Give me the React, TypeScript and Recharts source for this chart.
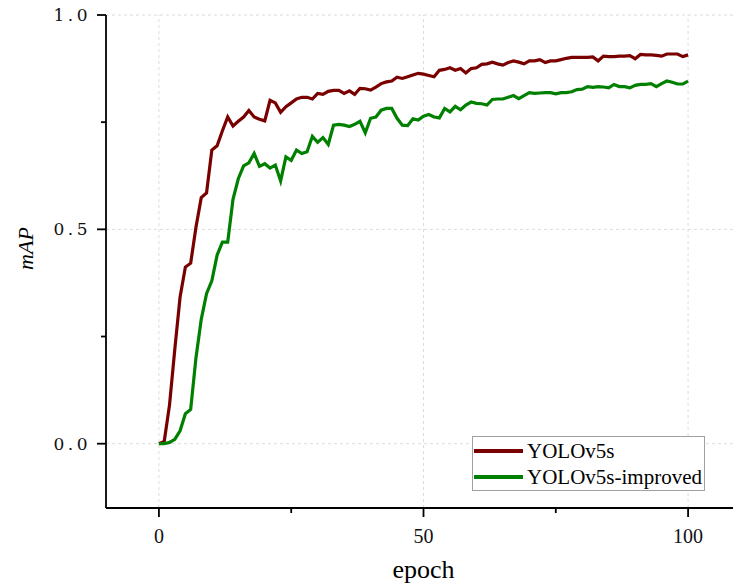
import { LineChart, Line, XAxis, YAxis, ReferenceLine, Legend } from 'recharts'

const yolov5s = [
  0.0, 0.005, 0.09, 0.22, 0.342, 0.412, 0.421, 0.505, 0.574, 0.585,
  0.685, 0.695, 0.73, 0.762, 0.741, 0.752, 0.762, 0.777, 0.762, 0.757,
  0.753, 0.801, 0.795, 0.773, 0.786, 0.795, 0.804, 0.808, 0.808, 0.804,
  0.817, 0.815, 0.822, 0.824, 0.824, 0.817, 0.823, 0.815, 0.829, 0.828,
  0.825, 0.832, 0.84, 0.844, 0.846, 0.855, 0.852, 0.856, 0.86, 0.864,
  0.862, 0.859, 0.856, 0.871, 0.873, 0.877, 0.871, 0.875, 0.865, 0.875,
  0.877, 0.885, 0.886, 0.89, 0.886, 0.883, 0.889, 0.893, 0.89, 0.886,
  0.893, 0.893, 0.896, 0.889, 0.893, 0.893, 0.896, 0.899, 0.901, 0.901,
  0.901, 0.901, 0.902, 0.893, 0.904, 0.903, 0.903, 0.904, 0.904, 0.905,
  0.898, 0.908, 0.907, 0.907, 0.906, 0.904, 0.909, 0.909, 0.909, 0.903,
  0.907,
]

const yolov5sImproved = [
  0.0, 0.0, 0.003, 0.01, 0.03, 0.07, 0.08, 0.2, 0.29, 0.35,
  0.38, 0.44, 0.47, 0.47, 0.57, 0.618, 0.648, 0.655, 0.677, 0.647,
  0.653, 0.643, 0.65, 0.613, 0.669, 0.661, 0.685, 0.677, 0.681, 0.717,
  0.703, 0.714, 0.698, 0.743, 0.745, 0.743, 0.74, 0.745, 0.752, 0.725,
  0.759, 0.762, 0.778, 0.782, 0.782, 0.759, 0.743, 0.742, 0.758, 0.755,
  0.764, 0.768, 0.762, 0.76, 0.782, 0.774, 0.787, 0.779, 0.79, 0.797,
  0.794, 0.793, 0.79, 0.803, 0.804, 0.804, 0.808, 0.812, 0.805, 0.812,
  0.819, 0.817, 0.818, 0.819, 0.819, 0.816, 0.819, 0.819, 0.821, 0.826,
  0.827, 0.833, 0.831, 0.833, 0.832, 0.83, 0.838, 0.833, 0.833, 0.83,
  0.836, 0.838, 0.838, 0.84, 0.833, 0.84, 0.846, 0.843, 0.839, 0.839,
  0.846,
]

const xTicks = [0, 25, 50, 75, 100]
const xMajor = [0, 50, 100]
const yTicks = [0, 0.25, 0.5, 0.75, 1.0]
const yMajor = [0, 0.5, 1.0]

const data = yolov5s.map((v, i) => ({
  epoch: i,
  yolov5s: v,
  improved: yolov5sImproved[i],
}))

const RED = '#7a0000'
const GREEN = '#008000'
const GRID = '#dcdcdc'
const SERIF = "'Liberation Serif', 'Times New Roman', serif"

function BottomTick(props: any) {
  const { x, y, payload } = props
  const major = xMajor.includes(payload.value)
  return (
    <g>
      <line x1={x} x2={x} y1={y} y2={y + (major ? 9 : 5)} stroke="#000" strokeWidth={1.8} />
      {major && (
        <text x={x} y={y + 35} textAnchor="middle" fill="#111" fontFamily={SERIF} fontSize={20}>
          {payload.value}
        </text>
      )}
    </g>
  )
}

function TopTick(props: any) {
  const { x, y, payload } = props
  const major = xMajor.includes(payload.value)
  return <line x1={x} x2={x} y1={y} y2={y + (major ? 9 : 4)} stroke="#000" strokeWidth={1.8} />
}

function LeftTick(props: any) {
  const { x, y, payload } = props
  const major = yMajor.includes(payload.value)
  return (
    <g>
      <line x1={x - (major ? 9 : 5)} x2={x} y1={y} y2={y} stroke="#000" strokeWidth={1.8} />
      {major && (
        <text x={x - 15} y={y} textAnchor="end" dominantBaseline="central" fill="#111"
          fontFamily="'DejaVu Serif', serif" fontSize={17} letterSpacing={3.5}>
          {payload.value.toFixed(1)}
        </text>
      )}
    </g>
  )
}

function renderLegend(props: any) {
  const items = props.payload || []
  return (
    <div style={{
      boxSizing: 'border-box', width: 233, height: 55, border: '1px solid #a0a0a0',
      background: '#fff', padding: '1px 0 0 1px',
    }}>
      {items.map((it: any) => (
        <div key={it.value} style={{ display: 'flex', alignItems: 'center', height: 26 }}>
          <svg width={49} height={6} style={{ display: 'block' }}>
            <line x1={0} x2={49} y1={3} y2={3} stroke={it.color} strokeWidth={4} />
          </svg>
          <span style={{
            marginLeft: 4, fontFamily: SERIF, fontSize: 21, lineHeight: '26px', color: '#000',
          }}>
            {it.value}
          </span>
        </div>
      ))}
    </div>
  )
}

export default function App() {
  return (
    <div style={{ position: 'absolute', left: 0, top: 0, width: 733, height: 587, overflow: 'hidden', background: '#fff' }}>
      <LineChart width={745} height={587} data={data} margin={{ top: 15, right: 4, bottom: 0, left: 0 }}>
        <XAxis
          xAxisId="b"
          dataKey="epoch"
          type="number"
          domain={[-10, 110]}
          ticks={xTicks}
          interval={0}
          height={79}
          tickSize={0}
          tickMargin={0}
          tickLine={false}
          axisLine={{ stroke: '#000', strokeWidth: 1.8 }}
          tick={<BottomTick />}
          label={(p: any) => (
            <text x={p.viewBox.x + p.viewBox.width / 2} y={p.viewBox.y + 70} textAnchor="middle"
              fill="#000" fontFamily={SERIF} fontSize={26}>
              epoch
            </text>
          )}
        />
        <XAxis
          xAxisId="t"
          orientation="top"
          dataKey="epoch"
          type="number"
          domain={[-10, 110]}
          ticks={xTicks}
          interval={0}
          height={0}
          tickSize={0}
          tickMargin={0}
          tickLine={false}
          axisLine={{ stroke: '#000', strokeWidth: 1.8 }}
          tick={<TopTick />}
        />
        <YAxis
          yAxisId="l"
          type="number"
          domain={[-0.15, 1.0]}
          ticks={yTicks}
          interval={0}
          width={106}
          tickSize={0}
          tickMargin={0}
          tickLine={false}
          axisLine={{ stroke: '#000', strokeWidth: 1.8 }}
          tick={<LeftTick />}
          label={(p: any) => {
            const cx = p.viewBox.x + 25
            const cy = p.viewBox.y + p.viewBox.height / 2 - 13
            return (
              <text x={cx} y={cy} textAnchor="middle" dominantBaseline="central"
                transform={`rotate(-90, ${cx}, ${cy})`} fill="#000"
                fontFamily={SERIF} fontSize={22} fontStyle="italic">
                mAP
              </text>
            )
          }}
        />
        {xMajor.map((v) => (
          <ReferenceLine key={'x' + v} xAxisId="b" yAxisId="l" x={v} stroke={GRID} strokeDasharray="3 3" />
        ))}
        {yMajor.map((v) => (
          <ReferenceLine key={'y' + v} xAxisId="b" yAxisId="l" y={v} stroke={GRID} strokeDasharray="3 3" />
        ))}
        <Legend
          layout="vertical"
          align="center"
          verticalAlign="middle"
          wrapperStyle={{ left: 472, top: 436, width: 233, height: 55 }}
          content={renderLegend}
        />
        <Line
          xAxisId="b"
          yAxisId="l"
          type="linear"
          dataKey="yolov5s"
          name="YOLOv5s"
          stroke={RED}
          strokeWidth={3.2}
          dot={false}
          activeDot={false}
          isAnimationActive={false}
        />
        <Line
          xAxisId="b"
          yAxisId="l"
          type="linear"
          dataKey="improved"
          name="YOLOv5s-improved"
          stroke={GREEN}
          strokeWidth={3.2}
          dot={false}
          activeDot={false}
          isAnimationActive={false}
        />
      </LineChart>
    </div>
  )
}
